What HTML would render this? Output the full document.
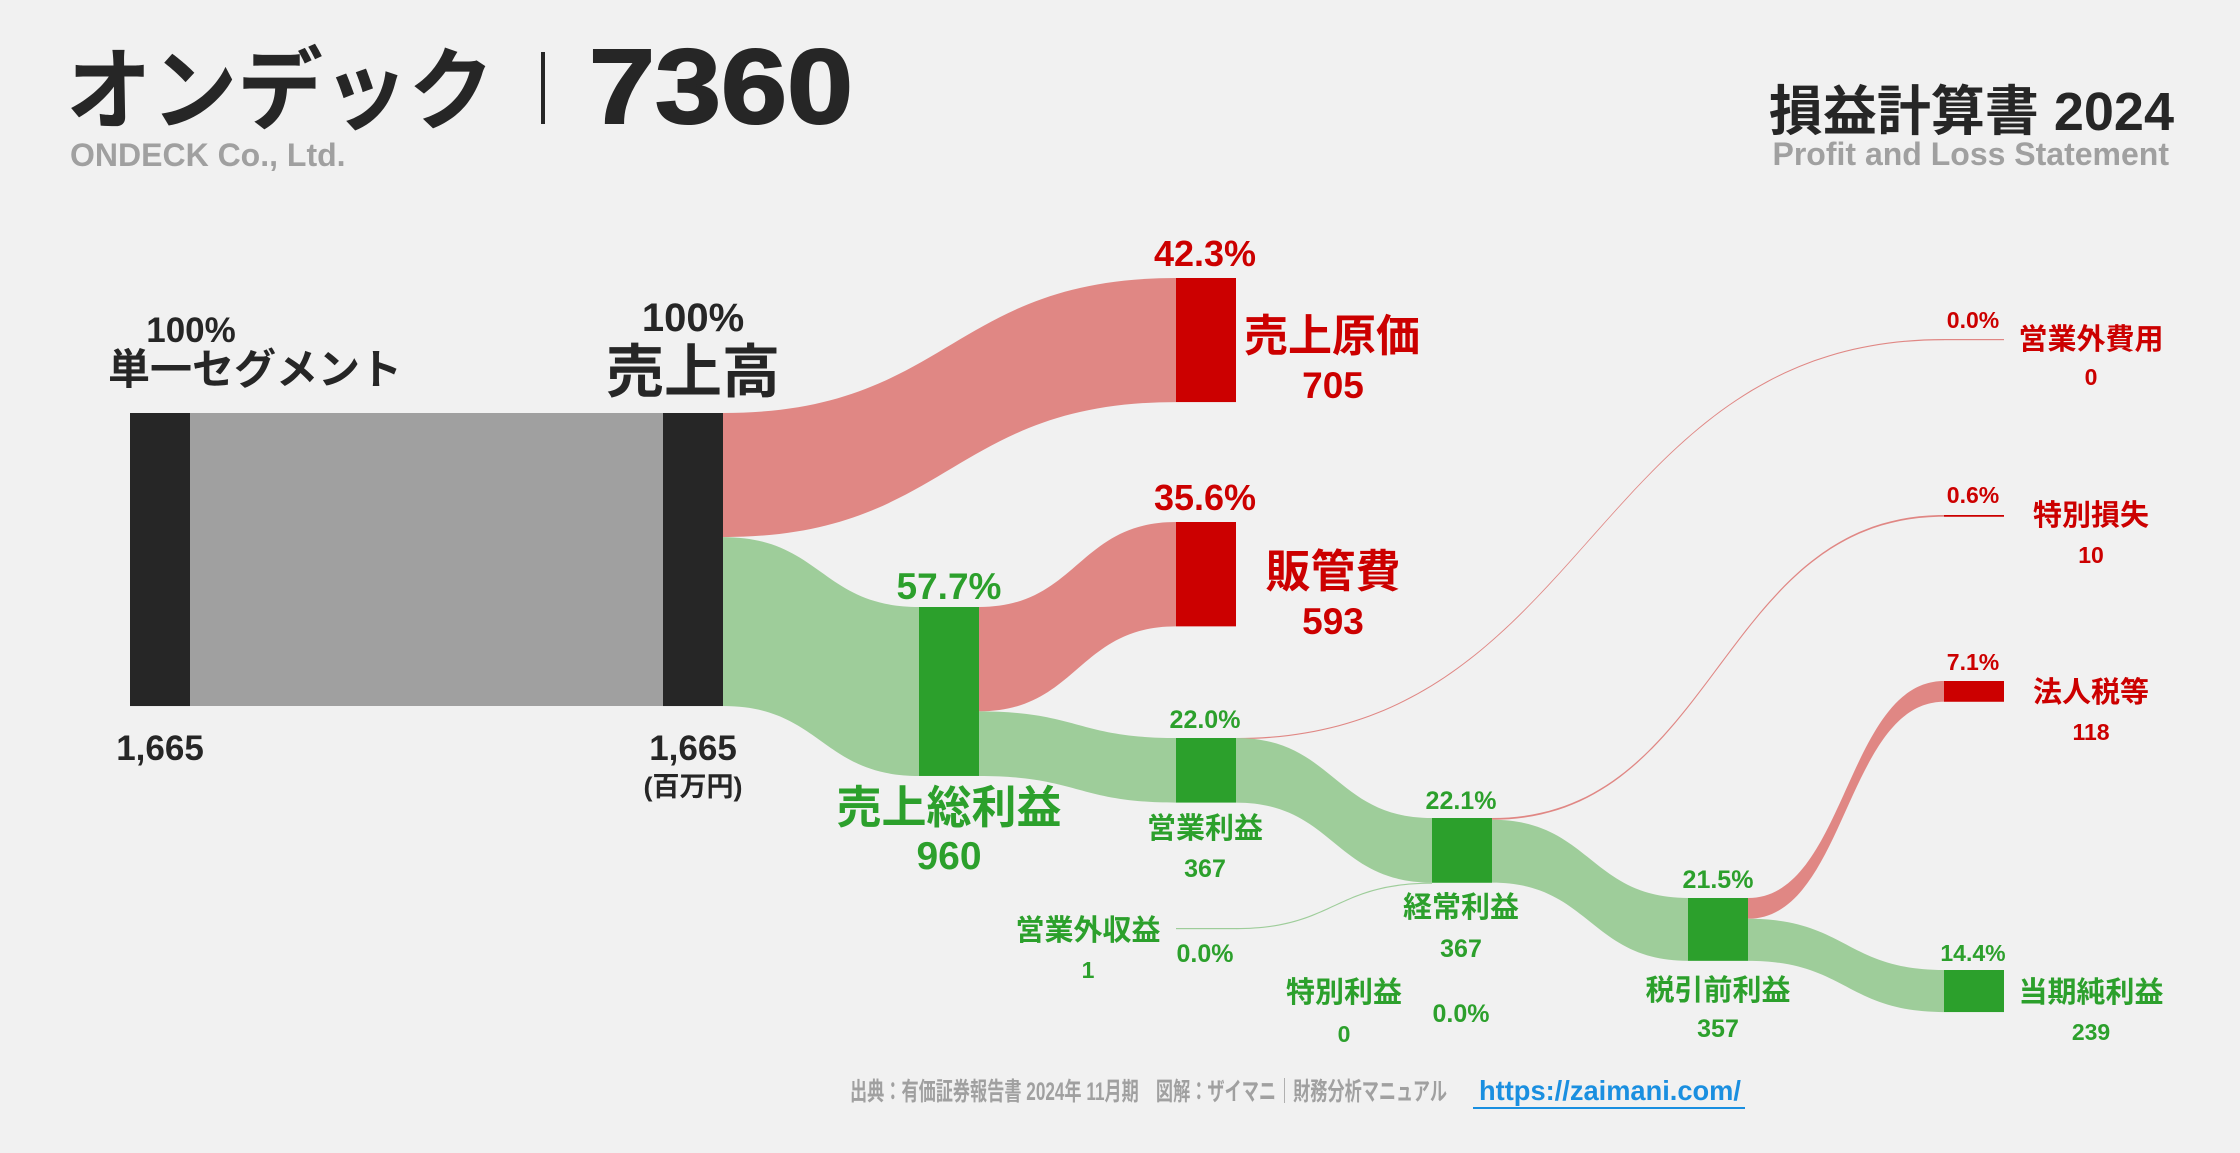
<!DOCTYPE html>
<html><head><meta charset="utf-8">
<style>
html,body{margin:0;padding:0;background:#f1f1f1;}
svg{display:block;font-family:"Liberation Sans","Noto Sans CJK JP",sans-serif;font-weight:bold;}
</style></head>
<body>
<svg id="chart" width="2240" height="1153" viewBox="0 0 2240 1153" xmlns="http://www.w3.org/2000/svg">
<rect width="2240" height="1153" fill="#f1f1f1"/>
<g>
<text x="66" y="122" font-size="90" fill="#262626" textLength="428" lengthAdjust="spacingAndGlyphs">オンデック</text>
<rect x="541" y="52" width="4" height="72" fill="#262626"/>
<text x="589" y="123" font-size="106" fill="#262626" stroke="#262626" stroke-width="2" textLength="264" lengthAdjust="spacingAndGlyphs">7360</text>
<text x="70" y="166" font-size="32" fill="#a0a0a0">ONDECK Co., Ltd.</text>
<text x="2174" y="130" font-size="54" fill="#262626" text-anchor="end">損益計算書 2024</text>
<text x="2169" y="165" font-size="32" fill="#a0a0a0" text-anchor="end">Profit and Loss Statement</text>
</g>
<g id="links"></g>
<g id="nodes"></g>
<g id="labels"></g>
<g>
<text x="850" y="1100" font-size="25" fill="#a0a0a0" textLength="597" lengthAdjust="spacingAndGlyphs">出典：有価証券報告書 2024年 11月期　図解：ザイマニ｜財務分析マニュアル</text>
<text x="1479" y="1100" font-size="28" fill="#1a8fe0" textLength="262" lengthAdjust="spacingAndGlyphs">https://zaimani.com/</text>
<rect x="1473" y="1107" width="272" height="2" fill="#1a8fe0"/>
</g>
</svg>
<script>
// data
const nodeNames = ["seg","rev","cogs","gp","sga","op","nonopInc","ord","nonopExp","specGain","specLoss","pretax","tax","net"];
const nodeValues = [1665,1665,705,960,593,367,1,368,0,0,10,357,118,239];
const linkSources = ["seg","rev","rev","gp","gp","op","op","nonopInc","ord","ord","pretax","pretax"];
const linkTargets = ["rev","cogs","gp","sga","op","nonopExp","ord","ord","specLoss","pretax","tax","net"];
const linkValues = [1665,705,960,593,367,0,367,1,10,357,118,239];
// layout (positions/styles)
const K = 0.176;
const layout = {
 seg:{x:130,y:413,c:"#262626"}, rev:{x:663,y:413,c:"#262626"}, cogs:{x:1176,y:278,c:"#cc0000"},
 gp:{x:919,y:607,c:"#2ca02c"}, sga:{x:1176,y:522,c:"#cc0000"}, op:{x:1176,y:738,c:"#2ca02c"},
 nonopInc:{x:1176,y:928,c:"#9ecd9a"}, ord:{x:1432,y:818,c:"#2ca02c"}, nonopExp:{x:1944,y:339,c:"#e08784"},
 specGain:{x:1300,y:1060,c:"none",hide:1}, specLoss:{x:1944,y:515,c:"#cc0000"}, pretax:{x:1688,y:898,c:"#2ca02c"},
 tax:{x:1944,y:681,c:"#cc0000"}, net:{x:1944,y:970,c:"#2ca02c"}
};
const W = 60;
const NS="http://www.w3.org/2000/svg";
const nodesG=document.getElementById('nodes'), linksG=document.getElementById('links'), labelsG=document.getElementById('labels');
const h = v => Math.max(v*K, 1.2);
const outOff={}, inOff={};
nodeNames.forEach(n=>{outOff[n]=0;inOff[n]=0;});
linkSources.forEach((s,i)=>{
 const t=linkTargets[i], v=linkValues[i], th=h(v);
 const S=layout[s], T=layout[t];
 const x0=S.x+W, x1=T.x;
 const y0=S.y+outOff[s], y1=T.y+inOff[t];
 outOff[s]+= v*K; inOff[t]+= v*K;
 const red = ["cogs","sga","nonopExp","specLoss","tax"].includes(t);
 const col = s==="seg" ? "#a0a0a0" : (red ? "#e08784" : "#9ecd9a");
 const p=document.createElementNS(NS,'path');
 let d;
 if(s==="seg"){ d=`M${x0},${y0}H${x1}V${y1+th}H${x0}Z`; }
 else { const xm=(x0+x1)/2;
  d=`M${x0},${y0}C${xm},${y0} ${xm},${y1} ${x1},${y1}V${y1+th}C${xm},${y1+th} ${xm},${y0+th} ${x0},${y0+th}Z`; }
 p.setAttribute('d',d); p.setAttribute('fill',col);
 
 
 linksG.appendChild(p);
});
nodeNames.forEach((n,i)=>{
 const L=layout[n]; if(L.hide) return;
 const r=document.createElementNS(NS,'rect');
 r.setAttribute('x',L.x); r.setAttribute('y',L.y); r.setAttribute('width',W);
 r.setAttribute('height',h(nodeValues[i])); r.setAttribute('fill',L.c);
 
 
 nodesG.appendChild(r);
});
// labels
const labelTexts = ["100%","単一セグメント","1,665","100%","売上高","1,665","(百万円)","42.3%","売上原価","705","57.7%","売上総利益","960","35.6%","販管費","593","22.0%","営業利益","367","営業外収益","1","0.0%","22.1%","経常利益","367","特別利益","0","0.0%","21.5%","税引前利益","357","0.0%","営業外費用","0","0.6%","特別損失","10","7.1%","法人税等","118","14.4%","当期純利益","239"];
const R="#cc0000",G="#2ca02c",D="#262626";
const labelPos = [
[191,342,35,D],[255,384,42,D],[160,760,35,D],[693,331,40,D],[693,392,58,D],[693,760,35,D],[693,796,27,D],
[1205,266,36,R],[1332,351,44,R],[1333,398,37,R],
[949,599,37,G],[949,823,45,G],[949,869,39,G],
[1205,510,36,R],[1333,587,45,R],[1333,634,37,R],
[1205,728,25,G],[1205,838,29,G],[1205,877,25,G],
[1088,940,29,G],[1088,978,23,G],[1205,962,25,G],
[1461,809,25,G],[1461,917,29,G],[1461,957,25,G],
[1344,1002,29,G],[1344,1042,23,G],[1461,1022,25,G],
[1718,888,25,G],[1718,1000,29,G],[1718,1037,25,G],
[1973,328,23,R],[2091,349,29,R],[2091,385,23,R],
[1973,503,23,R],[2091,525,29,R],[2091,563,23,R],
[1973,670,23,R],[2091,702,29,R],[2091,740,23,R],
[1973,961,23,G],[2091,1002,29,G],[2091,1040,23,G]
];
labelTexts.forEach((s,i)=>{
 const [x,y,fs,c]=labelPos[i];
 const t=document.createElementNS(NS,'text');
 t.setAttribute('x',x); t.setAttribute('y',y); t.setAttribute('font-size',fs);
 t.setAttribute('fill',c); t.setAttribute('text-anchor','middle');
 t.textContent=s;
 
 
 labelsG.appendChild(t);
});
</script>
</body></html>
